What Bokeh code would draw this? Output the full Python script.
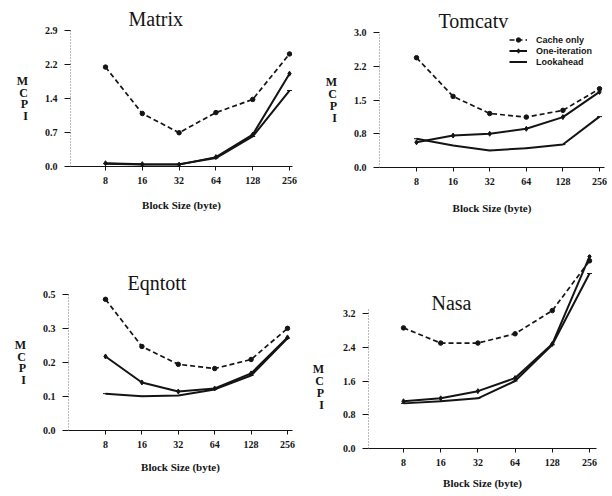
from bokeh.plotting import figure
from bokeh.layouts import column, row
from bokeh.models import Range1d, FixedTicker, Label, Legend, LegendItem
from bokeh.embed import file_html
from bokeh.resources import INLINE

# ---------------- data ----------------
block_sizes = [8, 16, 32, 64, 128, 256]
block_labels = ["8", "16", "32", "64", "128", "256"]
series_names = ["Cache only", "One-iteration", "Lookahead"]

matrix_cache = [2.12, 1.13, 0.72, 1.15, 1.43, 2.40]
matrix_one = [0.07, 0.05, 0.04, 0.20, 0.68, 1.98]
matrix_look = [0.06, 0.04, 0.05, 0.18, 0.64, 1.62]
matrix_yticks = [0.0, 0.725, 1.45, 2.175, 2.9]
matrix_ylabels = ["0.0", "0.7", "1.4", "2.2", "2.9"]

tomcatv_cache = [2.44, 1.58, 1.20, 1.12, 1.27, 1.75]
tomcatv_one = [0.56, 0.71, 0.75, 0.86, 1.12, 1.68]
tomcatv_look = [0.64, 0.49, 0.38, 0.43, 0.51, 1.13]
tomcatv_yticks = [0.0, 0.75, 1.5, 2.25, 3.0]
tomcatv_ylabels = ["0.0", "0.8", "1.5", "2.2", "3.0"]

eqntott_cache = [0.434, 0.278, 0.219, 0.205, 0.235, 0.338]
eqntott_one = [0.245, 0.159, 0.129, 0.139, 0.189, 0.308]
eqntott_look = [0.122, 0.113, 0.116, 0.136, 0.182, 0.305]
eqntott_yticks = [0.0, 0.1125, 0.225, 0.3375, 0.45]
eqntott_ylabels = ["0.0", "0.1", "0.2", "0.3", "0.5"]

nasa_cache = [2.86, 2.50, 2.50, 2.72, 3.27, 4.45]
nasa_one = [1.12, 1.19, 1.36, 1.67, 2.48, 4.55]
nasa_look = [1.07, 1.12, 1.19, 1.60, 2.46, 4.15]
nasa_yticks = [0.0, 0.8, 1.6, 2.4, 3.2]
nasa_ylabels = ["0.0", "0.8", "1.6", "2.4", "3.2"]

SERIF = "Liberation Serif"
SANS = "Liberation Sans"
INK = "#141414"
YLABEL = "M\nC\nP\nI"


def panel(title, cache, one, look, yticks, ylabels, ymax,
          L, R, T, B, x_lo, x_hi, title_offset, xl_standoff, yl_standoff,
          ybounds=None, legend=False, ylabel_text=YLABEL):
    p = figure(width=306, height=248, output_backend="svg", toolbar_location=None,
               x_axis_type="log", min_border_left=L, min_border_right=R,
               min_border_top=T, min_border_bottom=B,
               x_range=Range1d(x_lo, x_hi), y_range=Range1d(0, ymax))
    p.frame_align = False
    p.outline_line_color = None
    p.xgrid.visible = False
    p.ygrid.visible = False
    p.background_fill_color = "white"
    p.border_fill_color = "white"
    if title:
        p.title.text = title
        p.title.align = "left"
        p.title.offset = title_offset
        p.title.text_font = SERIF
        p.title.text_font_size = "20px"
        p.title.text_font_style = "normal"
        p.title.text_color = INK
        p.title.standoff = 2

    xa = p.xaxis[0]
    xa.ticker = FixedTicker(ticks=block_sizes, minor_ticks=[])
    xa.major_label_overrides = {v: s for v, s in zip(block_sizes, block_labels)}
    xa.major_label_text_font = SERIF
    xa.major_label_text_font_style = "bold"
    xa.major_label_text_font_size = "10px"
    xa.major_label_text_color = INK
    xa.major_label_standoff = 6
    xa.major_tick_out = 4
    xa.major_tick_in = 0
    xa.major_tick_line_color = INK
    xa.axis_line_color = INK
    xa.axis_line_width = 1
    xa.axis_label = "Block Size (byte)"
    xa.axis_label_text_font = SERIF
    xa.axis_label_text_font_style = "bold"
    xa.axis_label_text_font_size = "11px"
    xa.axis_label_text_color = INK
    xa.axis_label_standoff = xl_standoff

    ya = p.yaxis[0]
    ya.ticker = FixedTicker(ticks=yticks, minor_ticks=[])
    ya.major_label_overrides = {v: s for v, s in zip(yticks, ylabels)}
    ya.major_label_text_font = SERIF
    ya.major_label_text_font_style = "bold"
    ya.major_label_text_font_size = "10px"
    ya.major_label_text_color = INK
    ya.major_label_standoff = 7
    ya.major_tick_out = 6
    ya.major_tick_in = 0
    ya.major_tick_line_color = INK
    ya.axis_line_color = "#777777"
    ya.axis_line_dash = "1 2"
    ya.axis_line_width = 1
    ya.axis_label = ylabel_text
    ya.axis_label_orientation = "horizontal"
    ya.axis_label_text_font = SERIF
    ya.axis_label_text_font_style = "bold"
    ya.axis_label_text_font_size = "12px"
    ya.axis_label_text_line_height = 0.85
    ya.axis_label_text_color = INK
    ya.axis_label_standoff = yl_standoff
    if ybounds is not None:
        ya.bounds = ybounds

    r1 = p.line(block_sizes, cache, line_color=INK, line_width=1.7, line_dash="5 3")
    s1 = p.scatter(block_sizes, cache, marker="circle", size=4.5, color=INK)
    r2 = p.line(block_sizes, one, line_color=INK, line_width=2.0)
    s2 = p.scatter(block_sizes, one, marker="diamond", size=5, color=INK)
    r3 = p.line(block_sizes, look, line_color=INK, line_width=2.0)
    s3 = p.scatter(block_sizes, look, marker="dash", size=5, color=INK)

    if legend:
        lg = Legend(items=[LegendItem(label=series_names[0], renderers=[r1, s1]),
                           LegendItem(label=series_names[1], renderers=[r2, s2]),
                           LegendItem(label=series_names[2], renderers=[r3, s3])],
                    location=(130, 100), orientation="vertical",
                    border_line_color=None, background_fill_alpha=0,
                    padding=0, margin=0, spacing=0,
                    label_height=11, glyph_height=11, glyph_width=18,
                    label_standoff=9,
                    label_text_font=SANS, label_text_font_style="bold",
                    label_text_font_size="9px", label_text_color=INK)
        p.add_layout(lg)
    return p


def lg2(e):
    return 2.0 ** e


p1 = panel("Matrix", matrix_cache, matrix_one, matrix_look, matrix_yticks, matrix_ylabels, 2.9,
           L=70, R=14, T=30, B=82, x_lo=lg2(3 - 35 / 36.8), x_hi=lg2(8 + 3 / 36.8),
           title_offset=58, xl_standoff=12, yl_standoff=14)
p2 = panel("Tomcatv", tomcatv_cache, tomcatv_one, tomcatv_look, tomcatv_yticks, tomcatv_ylabels, 3.0,
           L=73, R=8, T=32, B=81, x_lo=lg2(3 - 37 / 36.6), x_hi=lg2(8 + 5 / 36.6),
           title_offset=59, xl_standoff=14, yl_standoff=14, legend=True)
p3 = panel("Eqntott", eqntott_cache, eqntott_one, eqntott_look, eqntott_yticks, eqntott_ylabels, 0.45,
           L=68, R=14, T=46, B=66, x_lo=lg2(3 - 37 / 36.4), x_hi=lg2(8 + 5 / 36.4),
           title_offset=59, xl_standoff=10, yl_standoff=14)
# Nasa: the MCPI label sits lower (centred on the drawn axis, not on the frame)
p4 = panel(None, nasa_cache, nasa_one, nasa_look, nasa_yticks, nasa_ylabels, 4.6,
           L=62, R=16, T=6, B=48, x_lo=lg2(3 - 35 / 37.2), x_hi=lg2(8 + 7 / 37.2),
           title_offset=0, xl_standoff=8, yl_standoff=16, ybounds=(0, 3.3),
           ylabel_text="\n" * 6 + YLABEL)
p4.add_layout(Label(x=lg2(4.29), y=3.44, text="Nasa", text_font=SERIF, text_font_size="20px",
                    text_align="center", text_baseline="middle", text_color=INK))

layout = column(row(p1, p2, spacing=0), row(p3, p4, spacing=0), spacing=0)

open("out.html", "w").write(file_html(layout, INLINE))
